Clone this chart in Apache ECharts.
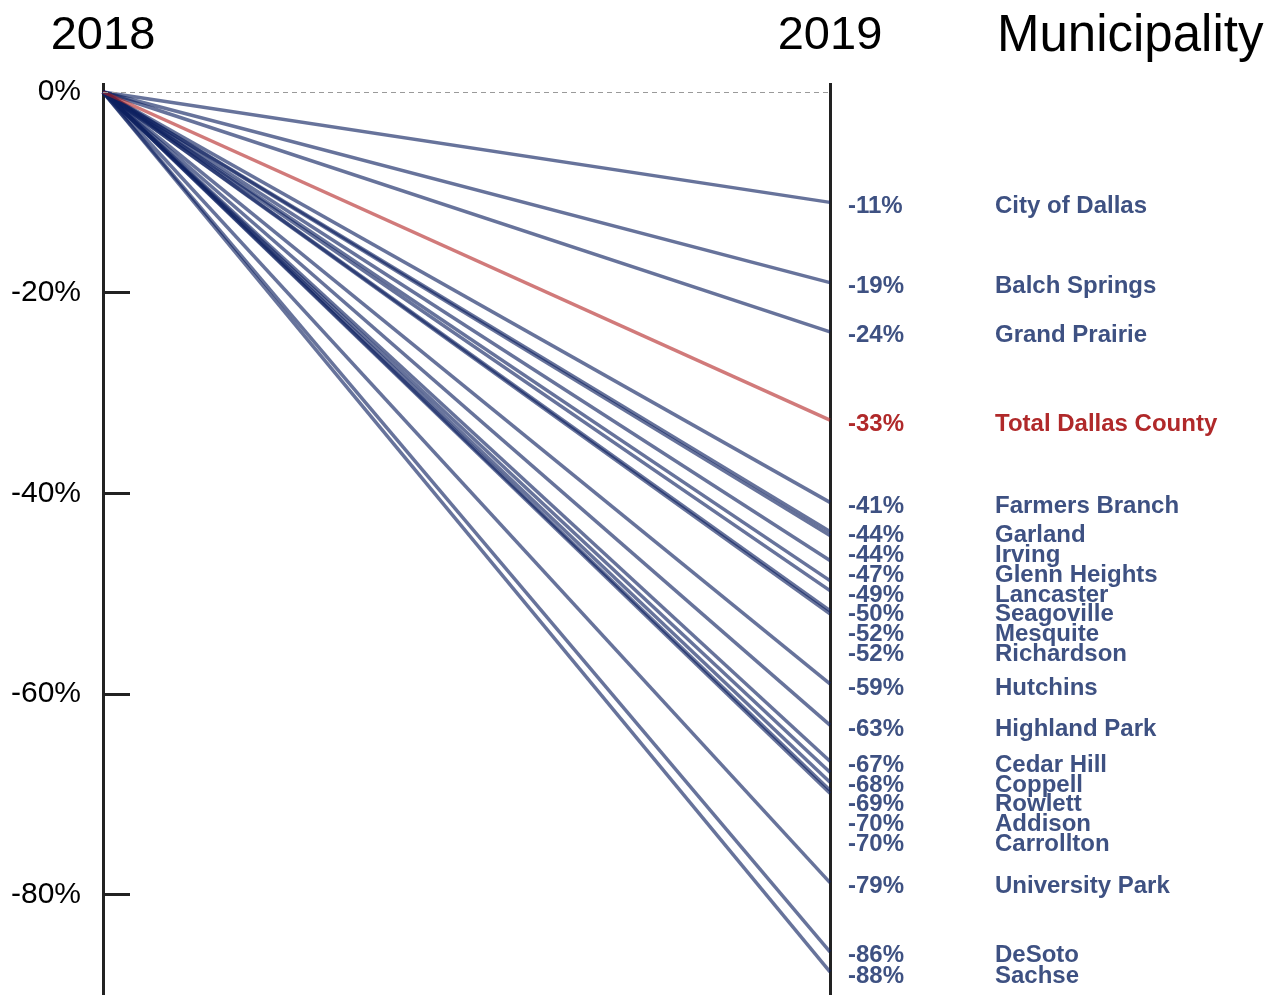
<!DOCTYPE html>
<html>
<head>
<meta charset="utf-8">
<script src="https://cdn.jsdelivr.net/npm/echarts@6/dist/echarts.min.js"></script>
<style>
  html, body { margin: 0; padding: 0; background: #fff; }
  #chart { width: 1264px; height: 995px; }
</style>
</head>
<body>
<div id="chart"></div>
<script>
// years on the x axis
const years = ['2018', '2019']
// municipalities, top to bottom
const municipalities = [
  'City of Dallas', 'Balch Springs', 'Grand Prairie', 'Total Dallas County',
  'Farmers Branch', 'Garland', 'Irving', 'Glenn Heights', 'Lancaster',
  'Seagoville', 'Mesquite', 'Richardson', 'Hutchins', 'Highland Park',
  'Cedar Hill', 'Coppell', 'Rowlett', 'Addison', 'Carrollton',
  'University Park', 'DeSoto', 'Sachse'
]
// change from 2018 to 2019, percent
const change2019 = [
  -11.0, -19.0, -23.9, -32.7,
  -40.9, -43.8, -44.2, -46.7, -48.7,
  -49.7, -51.7, -52.0, -59.0, -63.1,
  -66.7, -67.8, -68.8, -69.6, -69.9,
  -78.8, -85.7, -87.7
]
const totalName = 'Total Dallas County'
const yLabels = [0, -20, -40, -60, -80]
const yTicks = [-20, -40, -60, -80]

const chart = echarts.init(document.getElementById('chart'))
const FONT = '"Helvetica Neue", Helvetica, "Liberation Sans", Arial, sans-serif'
const LABEL_GAP = 19.8

function buildSeries (offsets) {
  return municipalities.map((name, i) => {
    const isTotal = name === totalName
    const textColor = isTotal ? '#b0292a' : '#3e5182'
    const s = {
      name: name,
      type: 'line',
      symbol: 'circle',
      symbolSize: 0,
      z: isTotal ? 3 : 2,
      lineStyle: {
        color: isTotal ? '#b22222' : '#0f2260',
        opacity: isTotal ? 0.6 : 0.63,
        width: 3.5
      },
      itemStyle: { color: 'transparent' },
      data: [
        { value: 0 },
        {
          value: change2019[i],
          label: {
            show: true,
            position: 'right',
            distance: 18,
            offset: [0, offsets ? offsets[i] : 0],
            formatter: '{v|' + Math.round(change2019[i]) + '%}{n|' + name + '}',
            rich: {
              v: { width: 147, fontSize: 24, fontWeight: 'bold', color: textColor, fontFamily: FONT, lineHeight: 20 },
              n: { fontSize: 24, fontWeight: 'bold', color: textColor, fontFamily: FONT, lineHeight: 20 }
            }
          }
        }
      ]
    }
    if (i === 0) {
      s.markLine = {
        silent: true,
        symbol: 'none',
        label: { show: false },
        lineStyle: { color: '#9a9a9a', type: [5, 4], width: 1 },
        data: [{ yAxis: 0 }]
      }
    }
    return s
  })
}

const option = {
  animation: false,
  backgroundColor: '#fff',
  textStyle: { fontFamily: FONT },
  title: {
    text: 'Municipality',
    left: 992,
    top: 6,
    textStyle: { fontSize: 51, fontWeight: 'normal', color: '#000', fontFamily: FONT }
  },
  grid: { left: 103, right: 434, top: 83, bottom: 0 },
  xAxis: {
    type: 'category',
    data: years,
    boundaryGap: false,
    position: 'top',
    axisLine: { show: false },
    axisTick: { show: false },
    axisLabel: { fontSize: 47, color: '#000', margin: 23, fontFamily: FONT },
    splitLine: { show: true, lineStyle: { color: '#222', width: 3 } }
  },
  yAxis: {
    type: 'value',
    min: -90,
    max: 0.9,
    axisLine: { show: false },
    splitLine: { show: false },
    axisTick: {
      show: true,
      inside: true,
      length: 27,
      customValues: yTicks,
      lineStyle: { color: '#222', width: 3 }
    },
    axisLabel: {
      customValues: yLabels,
      formatter: v => v + '%',
      fontSize: 30,
      color: '#000',
      margin: 22,
      fontFamily: FONT
    }
  },
  series: buildSeries(null)
}
chart.setOption(option)

// push overlapping end labels downward so each keeps its own row
const natural = change2019.map(v => chart.convertToPixel({ yAxisIndex: 0 }, v) + 4)
const order = change2019.map((v, i) => i).sort((a, b) => natural[a] - natural[b])
const offsets = new Array(change2019.length).fill(0)
let last = -Infinity
order.forEach(i => {
  const pos = Math.max(natural[i], last + LABEL_GAP)
  offsets[i] = pos - natural[i] + 4
  last = pos
})
chart.setOption({ series: buildSeries(offsets) })
</script>
</body>
</html>
